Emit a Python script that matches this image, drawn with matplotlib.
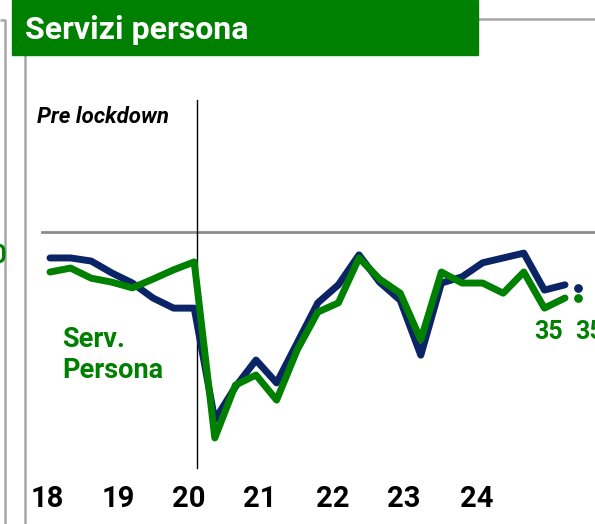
import matplotlib
matplotlib.use("Agg")
import matplotlib.pyplot as plt
import matplotlib.transforms as mtransforms

# ---- data (quarterly, 2018Q1 .. 2024Q2) ----
quarters = list(range(26))
navy_vals = [44.1, 44.1, 43.4, 40.7, 38.4, 35.0, 32.7, 32.7, 7.3, 14.8, 20.9, 15.7, 24.8,
             33.9, 38.0, 44.8, 38.6, 34.5, 22.0, 38.4, 39.8, 43.0, 44.1, 45.2, 36.8, 38.0]
green_vals = [40.9, 41.8, 39.5, 38.6, 37.3, 39.3, 41.4, 43.2, 3.2, 15.2, 17.5, 11.8, 23.2,
              31.8, 33.9, 44.1, 39.3, 36.1, 25.5, 40.9, 38.4, 38.4, 36.1, 40.9, 32.7, 35.0]
next_panel_x = 25.63
next_panel_vals = [37.3, 35.0]
year_labels = ["18", "19", "20", "21", "22", "23", "24"]
year_tick_pos = [-0.15, 3.30, 6.75, 10.19, 13.74, 17.18, 20.73]
ref_level = 50
lockdown_x = 7.14
last_labels = ["35", "35"]

NAVY = "#0b2466"
GREEN = "#008000"
GRAY = "#a6a6a6"
FONT = ["Roboto", "DejaVu Sans"]

W, H = 595, 524
fig = plt.figure(figsize=(W / 100, H / 100), dpi=100)

# decoration axes in pixel coordinates
deco = fig.add_axes([0, 0, 1, 1])
deco.set_xlim(0, W)
deco.set_ylim(H, 0)
deco.axis("off")

# panel borders
deco.plot([0, 5, 5], [20, 20, H], color=GRAY, lw=1.8, solid_capstyle="butt")
deco.plot([478, W], [19, 19], color=GRAY, lw=1.8)
deco.plot([25, 25], [55, H], color=GRAY, lw=1.8)
deco.add_patch(plt.Rectangle((12, 0), 466, 55, color=GREEN, zorder=3))
deco.text(25, 39, "Servizi persona", color="white", fontsize=23, fontweight="bold",
          family=FONT, va="baseline", ha="left", zorder=4)

# data axes
ax = fig.add_axes([0, 0, 1, 1], facecolor="none")
px_per_q = 20.6
px_per_unit = 4.4
x0_px = 50
ref_px = 232
ax.set_xlim(-x0_px / px_per_q, (W - x0_px) / px_per_q)
ax.set_ylim(ref_level - (H - ref_px) / px_per_unit, ref_level + ref_px / px_per_unit)
ax.axis("off")

ax.axhline(ref_level, xmin=42 / W, xmax=1, color="#8c8c8c", lw=2)
ax.axvline(lockdown_x, ymin=1 - 468 / H, ymax=1 - 100 / H, color="black", lw=1)

ax.plot(quarters, navy_vals, color=NAVY, lw=5, solid_joinstyle="round",
        solid_capstyle="round", zorder=3)
ax.plot(quarters, green_vals, color=GREEN, lw=5, solid_joinstyle="round",
        solid_capstyle="round", zorder=4)
ax.scatter([next_panel_x], [next_panel_vals[0]], s=28, color=NAVY, zorder=5)
ax.scatter([next_panel_x], [next_panel_vals[1]], s=28, color=GREEN, zorder=5)

blend = mtransforms.blended_transform_factory(ax.transData, deco.transData)
for pos, lab in zip(year_tick_pos, year_labels):
    ax.text(pos, 507, lab, transform=blend, ha="center", va="baseline",
            fontsize=21, fontweight="bold", family=FONT, color="black")

deco.text(37, 123, "Pre lockdown", fontsize=16, fontweight="bold", style="italic",
          family=FONT, color="black", va="baseline", ha="left")
deco.text(62, 347, "Serv.", fontsize=19.5, fontweight="bold", family=FONT,
          color=GREEN, va="baseline", ha="left")
deco.text(62, 378, "Persona", fontsize=19.5, fontweight="bold", family=FONT,
          color=GREEN, va="baseline", ha="left")
deco.text(534, 339, last_labels[0], fontsize=18, fontweight="bold", family=FONT,
          color=GREEN, va="baseline", ha="left")
deco.text(575, 339, last_labels[1], fontsize=18, fontweight="bold", family=FONT,
          color=GREEN, va="baseline", ha="left")
deco.text(7, 263, "40", fontsize=18, fontweight="bold", family=FONT,
          color=GREEN, va="baseline", ha="right")

fig.savefig("out.png", dpi=100)
